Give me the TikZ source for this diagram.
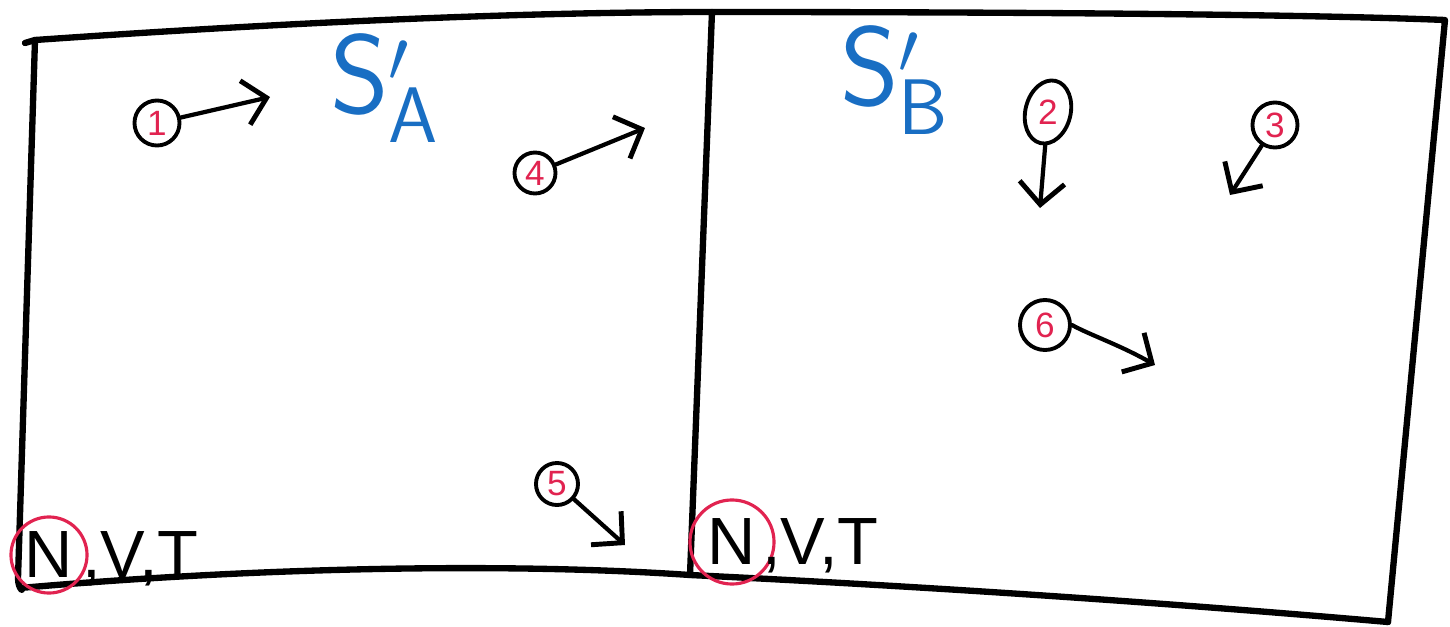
\documentclass[tikz,border=0pt]{standalone}
\usepackage{fontspec}
\setmainfont{Liberation Sans}
\usetikzlibrary{arrows.meta,positioning,shapes.geometric}
\definecolor{penblue}{RGB}{25,110,195}
\definecolor{penred}{RGB}{225,35,80}

\begin{document}
\begin{tikzpicture}[x=0.01cm, y=-0.01cm,
  particle/.style={draw, circle, line width=1.1pt, inner sep=1pt, minimum size=0.45cm,
    text=penred, font=\normalsize},
  move/.style={line width=1.2pt, line cap=round, -{Straight Barb[length=2.2mm, width=4.5mm, line width=1.4pt]}},
  wall/.style={line width=1.8pt, line cap=round, line join=round},
  sysname/.style={text=penblue, font=\fontsize{32}{32}\selectfont},
  statevar/.style={font=\fontsize{19}{19}\selectfont, inner sep=0pt}]
\useasboundingbox (0,0) rectangle (1450,627);

% the two boxes
\coordinate (tl) at (35,40);
\coordinate (tm) at (712,12);
\coordinate (tr) at (1445,20);
\coordinate (bl) at (20,588);
\coordinate (bm) at (690,575);
\coordinate (br) at (1388,622);
\draw[wall] (25,43) -- (tl) .. controls (250,25) and (500,12) .. (tm)
  .. controls (1000,12) and (1300,14) .. (tr) -- (br);
\draw[wall] (tl) -- (18,578) .. controls (18,590) and (25,592) .. (bl)
  .. controls (250,568) and (500,562) .. (bm) .. controls (1000,590) and (1250,610) .. (br);
\draw[wall] (tm) -- (bm);

% system labels
\node[sysname] (sA) at (385,88) {$\mathsf{S}'_{\mathsf{A}}$};
\node[sysname] (sB) at (895,80) {$\mathsf{S}'_{\mathsf{B}}$};

% particles in S'_A
\node[particle] (p1) at (157,123) {1};
\coordinate (v1) at (270,97);
\draw[move] (p1) -- (v1);
\node[particle, minimum size=0.4cm] (p4) at (535,173) {4};
\coordinate (v4) at (645,128);
\draw[move] (p4) -- (v4);
\node[particle, minimum size=0.42cm] (p5) at (557,484) {5};
\coordinate (v5) at (625,545);
\draw[move] (p5) -- (v5);

% particles in S'_B
\node[particle, ellipse, minimum width=0.34cm, minimum height=0.64cm, rotate=-14] (p2) at (1048,112) {\rotatebox{14}{2}};
\coordinate (v2) at (1040,208);
\draw[move] (p2) -- (v2);
\node[particle] (p3) at (1275,125) {3};
\coordinate (v3) at (1230,195);
\draw[move] (p3) -- (v3);
\node[particle, minimum size=0.5cm] (p6) at (1045,325) {6};
\coordinate (v6) at (1155,365);
\draw[move] (p6.east) .. controls (1090,335) and (1120,345) .. (v6);

% state variables
\node[statevar, draw=penred, circle, line width=0.9pt, minimum size=0.76cm] (nA) at (49,555) {N};
\node[statevar, anchor=base west] (vtA) at ([xshift=-2pt]nA.base east) {,V,T};
\node[statevar, draw=penred, circle, line width=0.9pt, minimum size=0.84cm] (nB) at (732,542) {N};
\node[statevar, anchor=base west] (vtB) at ([xshift=-4pt]nB.base east) {,V,T};
\end{tikzpicture}
\end{document}
